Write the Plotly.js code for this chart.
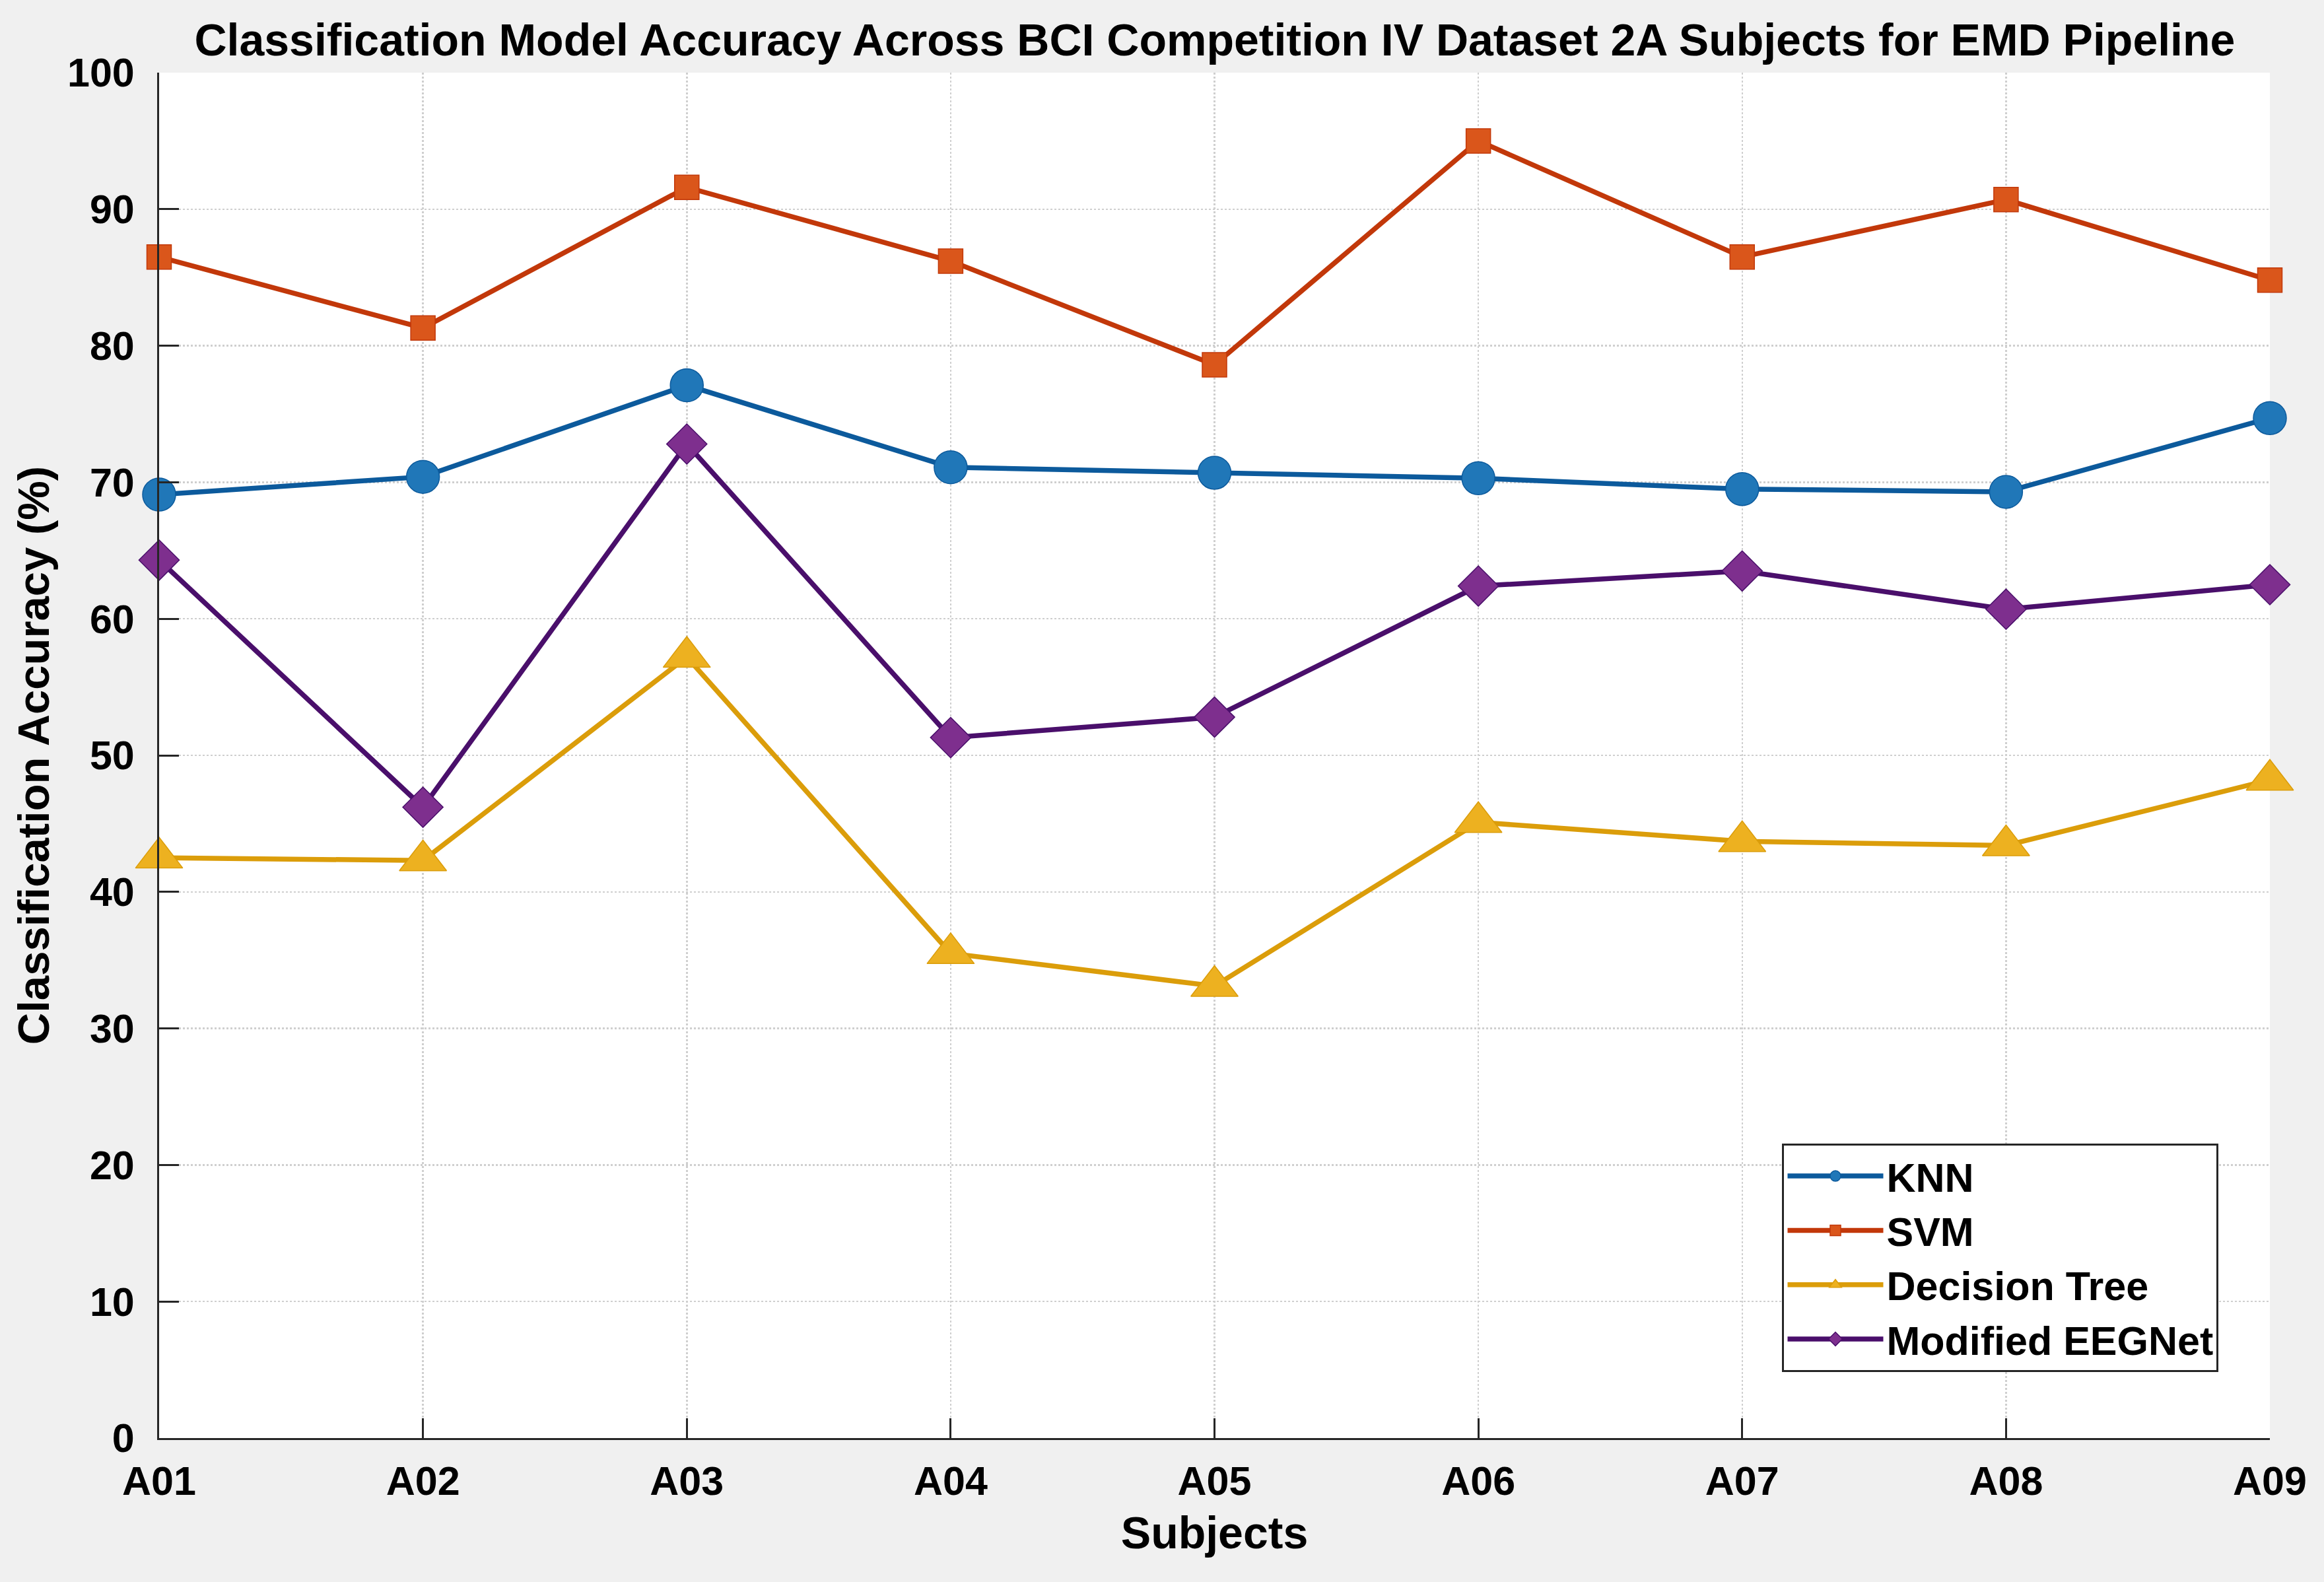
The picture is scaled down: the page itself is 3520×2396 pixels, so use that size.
<!DOCTYPE html>
<html>
<head>
<meta charset="utf-8">
<script src="https://cdn.plot.ly/plotly-3.0.1.min.js"></script>
<style>
  html, body { margin: 0; padding: 0; background: #f0f0f0; }
  #plotarea { width: 3520px; height: 2396px; }
</style>
</head>
<body>
<div id="plotarea"></div>
<script>
// subjects on the x axis
let subjects = ['A01', 'A02', 'A03', 'A04', 'A05', 'A06', 'A07', 'A08', 'A09'];

// accuracy (%) per model
let knn    = [69.1, 70.4, 77.1, 71.1, 70.7, 70.3, 69.5, 69.3, 74.7];
let svm    = [86.5, 81.3, 91.6, 86.2, 78.6, 95.0, 86.5, 90.7, 84.8];
let dtree  = [42.5, 42.3, 57.2, 35.5, 33.1, 45.1, 43.7, 43.4, 48.2];
let eegnet = [64.3, 46.2, 72.8, 51.3, 52.8, 62.4, 63.5, 60.7, 62.5];

let yTicks = [0, 10, 20, 30, 40, 50, 60, 70, 80, 90, 100];

let font = 'Liberation Sans, Arial, sans-serif';

function series(name, y, lineColor, fillColor, symbol, size){
    return {
        x: subjects,
        y: y,
        name: name,
        type: 'scatter',
        mode: 'lines+markers',
        cliponaxis: false,
        line: {color: lineColor, width: 7.5},
        marker: {
            symbol: symbol,
            size: size,
            color: fillColor,
            line: {color: lineColor, width: 1.5}
        }
    };
}

let traces = [
    series('KNN', knn, '#0C5A9C', '#2077B8', 'circle', 50),
    series('SVM', svm, '#C2380A', '#DA561B', 'square', 37),
    series('Decision Tree', dtree, '#DB9D0A', '#EDB120', 'triangle-up', 62),
    series('Modified EEGNet', eegnet, '#4A0F6B', '#7E2F8E', 'diamond', 47)
];

let layout = {
    width: 3520,
    height: 2396,
    paper_bgcolor: '#f0f0f0',
    plot_bgcolor: '#ffffff',
    margin: {l: 241, r: 82, t: 110, b: 218},
    font: {family: font, color: '#000000', weight: 'bold'},
    title: {
        text: 'Classification Model Accuracy Across BCI Competition IV Dataset 2A Subjects for EMD Pipeline',
        font: {family: font, size: 68, weight: 'bold', color: '#000000'},
        x: 0.5227,
        xanchor: 'center',
        y: 0.975,
        yanchor: 'middle'
    },
    xaxis: {
        type: 'category',
        range: [0, 8],
        title: {text: 'Subjects', font: {family: font, size: 68, weight: 'bold'}, standoff: 22},
        tickfont: {family: font, size: 61, weight: 'bold'},
        ticks: 'inside',
        ticklen: 30,
        tickwidth: 3,
        tickcolor: '#262626',
        ticklabelstandoff: 10,
        showline: true,
        linecolor: '#262626',
        linewidth: 3,
        mirror: false,
        showgrid: true,
        gridcolor: '#cfcfcf',
        gridwidth: 2.5,
        griddash: 'dot',
        zeroline: false,
        automargin: false
    },
    yaxis: {
        range: [0, 100],
        tickvals: yTicks,
        title: {text: 'Classification Accuracy (%)', font: {family: font, size: 67, weight: 'bold'}, standoff: 6},
        tickfont: {family: font, size: 61, weight: 'bold'},
        ticks: 'inside',
        ticklen: 30,
        tickwidth: 3,
        tickcolor: '#262626',
        ticklabelstandoff: 22,
        showline: true,
        linecolor: '#262626',
        linewidth: 3,
        mirror: false,
        showgrid: true,
        gridcolor: '#cfcfcf',
        gridwidth: 2.5,
        griddash: 'dot',
        zeroline: false,
        automargin: false
    },
    legend: {
        x: 0.769,
        xanchor: 'left',
        y: 0.2157,
        yanchor: 'top',
        bgcolor: '#ffffff',
        bordercolor: '#262626',
        borderwidth: 3,
        font: {family: font, size: 61, weight: 'bold', color: '#000000'},
        itemwidth: 145,
        tracegroupgap: 0
    },
    showlegend: true
};

Plotly.newPlot('plotarea', traces, layout, {displaylogo: false, displayModeBar: false, staticPlot: true});
</script>
</body>
</html>
